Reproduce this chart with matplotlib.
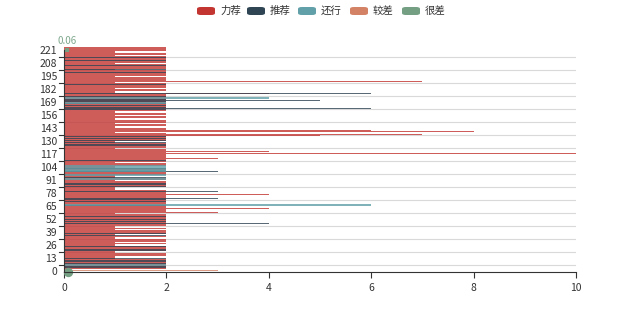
import matplotlib
matplotlib.use("Agg")
import matplotlib.pyplot as plt
from matplotlib.patches import FancyBboxPatch
import numpy as np

plt.rcParams['font.family'] = ['Noto Sans CJK SC', 'DejaVu Sans']

series_names = ["力荐", "推荐", "还行", "较差", "很差"]
series_colors = ["#c23531", "#2f4554", "#61a0a8", "#d48265", "#749f83"]

categories = list(range(222))

li_jian = [
    2,2,2,2,2,2,2,2,2,2, 1,1,1,2,2,2,1,1,2,2, 2,2,2,1,1,2,1,2,2,2, 1,1,2,1,1,2,2,2,2,1,
    2,1,1,2,2,2,2,2,2,2, 2,2,2,2,2,1,3,2,2,2, 4,2,2,2,2,2,2,2,2,2, 2,2,2,2,4,2,2,2,2,1,
    1,1,2,2,2,2,2,2,1,2, 2,1,1,1,2,2,2,2,2,2, 2,1,1,2,2,2,1,2,2,2, 3,2,2,2,2,10,2,4,2,2,
    1,2,2,2,2,2,1,1,2,2, 2,2,2,5,7,2,1,8,6,2, 2,1,1,2,2,1,2,2,2,1, 1,2,2,1,2,2,1,1,2,2,
    2,2,2,2,2,2,2,2,2,2, 2,2,2,2,2,4,1,1,2,2, 1,2,2,2,2,2,1,7,2,2, 2,2,1,2,2,2,2,2,2,1,
    2,2,2,2,2,1,2,2,2,2, 2,2,2,1,2,2,1,1,2,2, 2,2,
]
tui_jian = [
    0,0,2,2,0,0,2,0,2,2, 0,2,0,0,0,0,0,0,0,2, 2,0,0,2,0,0,0,0,0,0, 0,0,0,0,2,0,2,0,0,0,
    0,0,0,0,0,0,4,0,2,0, 2,0,0,2,0,0,0,0,0,0, 0,0,0,0,2,0,0,0,2,0, 2,3,0,0,0,0,0,0,3,0,
    0,0,0,2,0,2,2,0,0,0, 0,0,2,0,0,0,0,0,3,0, 0,2,0,0,0,0,0,0,0,2, 0,0,0,0,0,0,0,0,0,0,
    0,0,0,0,2,2,0,2,0,2, 0,2,0,2,0,0,0,0,0,0, 0,0,0,0,0,0,0,0,0,0, 0,0,0,0,0,0,0,0,0,0,
    2,6,2,0,2,0,2,0,2,5, 2,0,0,2,0,0,6,0,0,0, 0,0,0,0,0,2,0,0,0,0, 0,0,0,0,0,0,0,2,0,0,
    2,0,0,0,2,0,0,0,0,2, 0,0,2,0,0,0,0,0,0,0, 0,0,
]
hai_xing = [
    0,0,0,0,0,0,2,0,0,0, 0,0,0,0,0,0,0,0,0,0, 0,0,0,0,0,0,0,0,0,0, 0,0,0,0,0,0,0,0,0,0,
    0,0,0,0,0,0,0,0,0,0, 0,0,0,0,0,0,0,0,0,0, 0,0,0,0,0,0,6,0,0,0, 0,0,0,0,0,0,0,0,0,0,
    0,0,0,0,0,0,0,0,0,0, 0,0,2,0,0,0,2,0,0,0, 2,2,0,2,0,2,0,0,0,0, 0,0,0,0,0,0,0,0,0,0,
    0,0,0,0,0,0,0,0,0,0, 0,0,0,0,0,0,0,0,0,0, 0,0,0,0,0,0,0,0,0,0, 0,0,0,0,0,0,0,0,0,0,
    0,0,0,0,0,0,0,0,2,0, 0,0,0,4,0,0,0,0,0,0, 0,0,0,0,0,0,0,0,0,0, 0,0,0,0,0,0,0,0,0,0,
    0,0,0,0,0,0,0,0,0,0, 0,0,0,0,0,0,0,0,0,0, 0,0,
]
jiao_cha = [0,0,3] + [0] * 219
hen_cha = [0] * 222

series_values = [li_jian, tui_jian, hai_xing, jiao_cha, hen_cha]

y_tick_values = list(range(0, 222, 13))
y_tick_labels = [str(v) for v in y_tick_values]
x_ticks = [0, 2, 4, 6, 8, 10]
corner_label = "0.06"
corner_value = 0.06

W, H = 640, 320
fig = plt.figure(figsize=(W / 100, H / 100), dpi=100)
ax = fig.add_axes([64 / W, 1 - 271.5 / H, 512 / W, 222 / H])

split_pos = [6.5 + 13 * k for k in range(17)]
for p in split_pos:
    ax.axhline(p, color="#d9d9d9", lw=0.8, zorder=0)

cats = np.array(categories)
for i, (name, vals, col) in enumerate(zip(series_names, series_values, series_colors)):
    offset = 2.6 - 1.3 * i
    ax.barh(cats + offset, vals, height=1.15, color=col, linewidth=0, zorder=2 + i,
            alpha=0.8, clip_on=False)

ax.scatter([corner_value + 0.02], [-1], s=45, color="#749f83", zorder=10, clip_on=False, linewidths=0)
ax.scatter([corner_value], [221], s=12, color="#749f83", zorder=10, clip_on=False, linewidths=0, marker="s")
ax.text(corner_value, 225.5, corner_label, color="#7fa88e", fontsize=7, ha="center", va="bottom")

ax.set_xlim(0, 10)
ax.set_ylim(-0.5, 221.5)
ax.set_xticks(x_ticks)
ax.set_xticklabels([str(v) for v in x_ticks])
ax.set_yticks(y_tick_values)
ax.set_yticklabels(y_tick_labels)
ax.tick_params(axis="y", length=0, pad=5, labelsize=7.5, labelcolor="#333333")
ax.tick_params(axis="x", length=4, width=0.8, color="#333333", pad=4, labelsize=7.5, labelcolor="#333333")
for p in split_pos:
    ax.plot([-0.09, 0], [p, p], color="#333333", lw=0.8, clip_on=False, zorder=11)

for s in ["top", "right"]:
    ax.spines[s].set_visible(False)
for s in ["left", "bottom"]:
    ax.spines[s].set_color("#333333")
    ax.spines[s].set_linewidth(0.8)
    ax.spines[s].set_zorder(12)
ax.set_facecolor("white")

icon_x = [197, 247, 298, 350, 402]
for name, col, x0 in zip(series_names, series_colors, icon_x):
    patch = FancyBboxPatch((x0 / W, 1 - 15 / H), 18 / W, 8 / H,
                           boxstyle="round,pad=0,rounding_size=0.006",
                           transform=fig.transFigure, facecolor=col, edgecolor="none")
    fig.patches.append(patch)
    fig.text((x0 + 23) / W, 1 - 11 / H, name, fontsize=7.5, color="#333333", va="center", ha="left")

fig.savefig("out.png", dpi=100)
